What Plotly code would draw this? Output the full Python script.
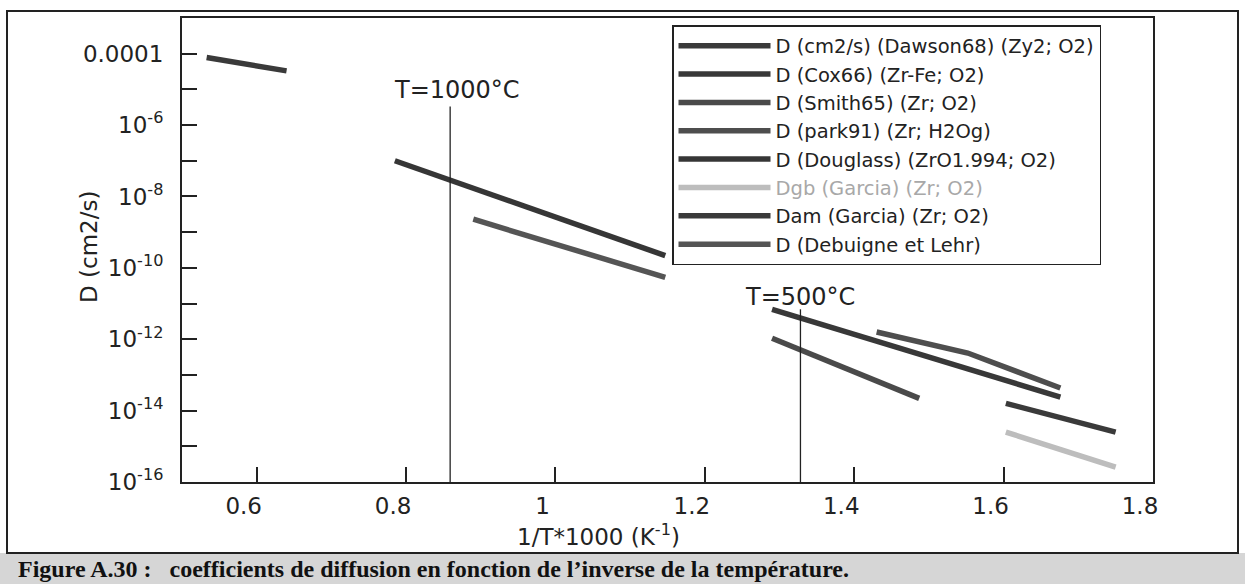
import plotly.graph_objects as go

# 1/T*1000 (K^-1) and D (cm2/s)
names = [
    "D (cm2/s) (Dawson68) (Zy2; O2)",
    "D (Cox66) (Zr-Fe; O2)",
    "D (Smith65) (Zr; O2)",
    "D (park91) (Zr; H2Og)",
    "D (Douglass) (ZrO1.994; O2)",
    "<span style='color:#a8a8a8'>Dgb (Garcia) (Zr; O2)</span>",
    "Dam (Garcia) (Zr; O2)",
    "D (Debuigne et Lehr)",
]
x_dawson = [0.533, 0.640]
d_dawson = [7.8e-5, 3.3e-5]
x_cox = [1.290, 1.676]
d_cox = [6.9e-12, 2.4e-14]
x_smith = [1.290, 1.487]
d_smith = [1.07e-12, 2.2e-14]
x_park = [1.430, 1.552, 1.676]
d_park = [1.6e-12, 4.1e-13, 4.3e-14]
x_douglass = [0.785, 1.147]
d_douglass = [1.0e-7, 2.2e-10]
x_dgb = [1.603, 1.750]
d_dgb = [2.5e-15, 2.6e-16]
x_dam = [1.603, 1.750]
d_dam = [1.6e-14, 2.5e-15]
x_debuigne = [0.890, 1.147]
d_debuigne = [2.3e-9, 5.4e-11]

xs = [x_dawson, x_cox, x_smith, x_park, x_douglass, x_dgb, x_dam, x_debuigne]
ds = [d_dawson, d_cox, d_smith, d_park, d_douglass, d_dgb, d_dam, d_debuigne]
colors = ["#3a3a3a", "#383838", "#4a4a4a", "#4e4e4e", "#363636", "#bdbdbd", "#3a3a3a", "#555555"]

# temperature markers
x_t1000 = [0.859, 0.859]
d_t1000 = [3.3e-6, 1e-16]
x_t500 = [1.328, 1.328]
d_t500 = [6.9e-12, 1e-16]

x_ticks = [0.6, 0.8, 1.0, 1.2, 1.4, 1.6, 1.8]
x_ticktext = ["0.6", "0.8", "1", "1.2", "1.4", "1.6", "1.8"]
y_major = [1e-4, 1e-6, 1e-8, 1e-10, 1e-12, 1e-14, 1e-16]
y_ticktext = ["0.0001", "10<sup>-6</sup>", "10<sup>-8</sup>", "10<sup>-10</sup>",
              "10<sup>-12</sup>", "10<sup>-14</sup>", "10<sup>-16</sup>"]
y_minor = [1e-5, 1e-7, 1e-9, 1e-11, 1e-13, 1e-15]

W, H = 1245, 584
L, R, T, B = 182, 92, 18, 102
pw, ph = W - L - R, H - T - B


def px(x):
    return (x - L) / pw


def py(y):
    return (H - B - y) / ph


font = "DejaVu Sans"
fig = go.Figure()

for n, x, d, c in zip(names, xs, ds, colors):
    fig.add_trace(go.Scatter(x=x, y=d, mode="lines", name=n,
                             line=dict(color=c, width=5.5)))

for x, d in [(x_t1000, d_t1000), (x_t500, d_t500)]:
    fig.add_trace(go.Scatter(x=x, y=d, mode="lines", showlegend=False,
                             line=dict(color="#222", width=1.3)))

fig.add_annotation(x=0.868, y=-5.03, text="T=1000°C", showarrow=False,
                   xanchor="center", yanchor="middle",
                   font=dict(family=font, size=24, color="#222"))
fig.add_annotation(x=1.328, y=-10.83, text="T=500°C", showarrow=False,
                   xanchor="center", yanchor="middle",
                   font=dict(family=font, size=24, color="#222"))

# axis titles
fig.add_annotation(xref="paper", yref="paper", x=px(89), y=py(247), text="D (cm2/s)",
                   textangle=-90, showarrow=False, xanchor="center", yanchor="middle",
                   font=dict(family=font, size=23, color="#222"))
fig.add_annotation(xref="paper", yref="paper", x=px(598), y=py(535),
                   text="1/T*1000 (K<sup>-1</sup>)", showarrow=False,
                   xanchor="center", yanchor="middle",
                   font=dict(family=font, size=23, color="#222"))

# caption band + outer frame
fig.add_shape(type="rect", xref="paper", yref="paper", x0=px(0), x1=px(W), y0=py(H + 5), y1=py(553),
              fillcolor="#d6d6d6", line=dict(width=0), layer="below")
fig.add_shape(type="rect", xref="paper", yref="paper", x0=px(7), x1=px(1238), y0=py(553), y1=py(11),
              line=dict(color="#222", width=2))
fig.add_annotation(xref="paper", yref="paper", x=px(16), y=py(569), xanchor="left", yanchor="middle",
                   text="<b>Figure A.30 :\u00a0\u00a0\u00a0coefficients de diffusion en fonction de l\u2019inverse de la température.</b>",
                   showarrow=False, font=dict(family="Liberation Serif", size=24, color="#111"))

axis_common = dict(showline=True, mirror=True, linecolor="#222", linewidth=2,
                   ticks="inside", ticklen=15, tickwidth=1.5, tickcolor="#222",
                   showgrid=False, zeroline=False,
                   tickfont=dict(family=font, size=23, color="#222"))

fig.update_xaxes(range=[0.5, 1.8], tickvals=x_ticks, ticktext=x_ticktext,
                 ticklabelshift=-13, ticklabelstandoff=2, **axis_common)
fig.update_yaxes(type="log", range=[-16, -3], tickvals=y_major, ticktext=y_ticktext,
                 ticklabelstandoff=12,
                 minor=dict(tickvals=y_minor, ticks="inside", ticklen=15, tickwidth=1.5,
                            tickcolor="#222", showgrid=False),
                 **axis_common)

fig.update_layout(
    width=W, height=H,
    margin=dict(l=L, r=R, t=T, b=B),
    paper_bgcolor="white", plot_bgcolor="white",
    showlegend=True,
    legend=dict(x=px(672), y=py(25), xanchor="left", yanchor="top",
                bgcolor="white", bordercolor="#222", borderwidth=1.5,
                itemwidth=92, tracegroupgap=0,
                font=dict(family=font, size=19.5, color="#222")),
)

fig.write_html("out.html", config={"displayModeBar": False},
               post_script="document.body.style.margin='0';")
